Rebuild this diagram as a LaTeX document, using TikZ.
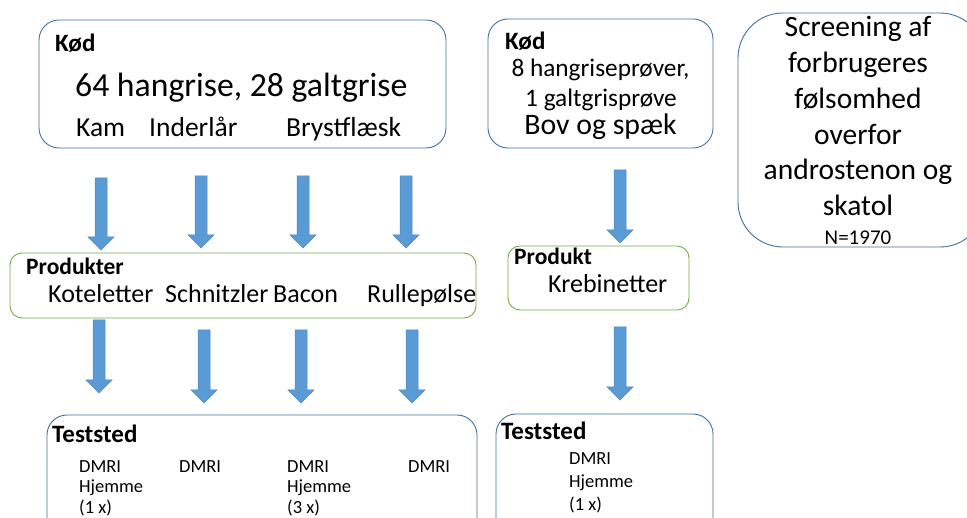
\documentclass[tikz,border=0pt]{standalone}
\usepackage{fontspec}
\setmainfont{Carlito}
\definecolor{bborder}{HTML}{41719C}
\definecolor{gborder}{HTML}{70AD47}
\definecolor{afill}{HTML}{5B9BD5}
\definecolor{aedge}{HTML}{4F88C0}
\newcommand\fs[1]{\fontsize{#1}{#1}\selectfont}
\newcommand\blockarrow[4]{% x, ytop, yheadstart, ytip
  \fill[afill,draw=aedge,line width=0.5pt]
    (#1-6,#2) -- (#1+6,#2) -- (#1+6,#3) -- (#1+13,#3) -- (#1,#4) -- (#1-13,#3) -- (#1-6,#3) -- cycle;}
\begin{document}
\begin{tikzpicture}[x=1pt,y=-1pt,
  bluebox/.style={draw=bborder,line width=0.9pt,rounded corners=20pt,inner sep=0pt},
  greenbox/.style={draw=gborder,line width=0.9pt,rounded corners=12pt,inner sep=0pt},
  txt/.style={anchor=base west,inner sep=0pt},
  ctxt/.style={anchor=base,inner sep=0pt}]
\clip (0,0) rectangle (967,518);
\fill[white] (0,0) rectangle (967,518);
% boxes
\node[bluebox,minimum width=407pt,minimum height=128pt] (kod1) at (242.5,84) {};
\node[bluebox,minimum width=225pt,minimum height=129pt] (kod2) at (600.5,83.5) {};
\node[bluebox,rounded corners=45pt,minimum width=247pt,minimum height=234pt] (scr) at (861.5,130) {};
\node[greenbox,minimum width=466pt,minimum height=65pt] (prod1) at (243,285.5) {};
\node[greenbox,minimum width=181pt,minimum height=64pt] (prod2) at (598.5,278) {};
\node[bluebox,minimum width=430pt,minimum height=130pt] (test1) at (262,480) {};
\node[bluebox,minimum width=217pt,minimum height=130pt] (test2) at (604.5,479) {};
% box 1 text
\node[txt,font=\fs{25}\bfseries] (k1t) at (55,52) {Kød};
\node[txt,font=\fs{33.7}] (k1a) at (75,97) {64 hangrise, 28 galtgrise};
\node[txt,font=\fs{27.5}] (k1b) at (76,137) {Kam};
\node[txt,font=\fs{27.5}] (k1c) at (149,137) {Inderlår};
\node[txt,font=\fs{27.5}] (k1d) at (286,137) {Brystflæsk};
% box 2 text
\node[txt,font=\fs{25}\bfseries] (k2t) at (505,50) {Kød};
\node[ctxt,font=\fs{25.3}] (k2a) at (600.5,77) {8 hangriseprøver,};
\node[ctxt,font=\fs{25.3}] (k2b) at (601,107) {1 galtgrisprøve};
\node[ctxt,font=\fs{29.8}] (k2c) at (600.5,135) {Bov og spæk};
% screening
\node[ctxt,font=\fs{29.5}] (s1) at (858,37) {Screening af};
\node[ctxt,font=\fs{29.5}] (s2) at (858,73) {forbrugeres};
\node[ctxt,font=\fs{29.5}] (s3) at (858,109) {følsomhed};
\node[ctxt,font=\fs{29.5}] (s4) at (858,144.5) {overfor};
\node[ctxt,font=\fs{29.5}] (s5) at (858,180) {androstenon og};
\node[ctxt,font=\fs{29.5}] (s6) at (858,216) {skatol};
\node[ctxt,font=\fs{21}] (s7) at (858,245) {N=1970};
% produkter
\node[txt,font=\fs{23.5}\bfseries] (p1t) at (26,275) {Produkter};
\node[txt,font=\fs{26}] (p1a) at (48,303) {Koteletter};
\node[txt,font=\fs{26}] (p1b) at (165,303) {Schnitzler};
\node[txt,font=\fs{26}] (p1c) at (273,303) {Bacon};
\node[txt,font=\fs{26}] (p1d) at (367,303) {Rullepølse};
\node[txt,font=\fs{23.5}\bfseries] (p2t) at (514,265) {Produkt};
\node[txt,font=\fs{26}] (p2a) at (548,293) {Krebinetter};
% teststed
\node[txt,font=\fs{25}\bfseries] (t1t) at (52,443) {Teststed};
\node[txt,font=\fs{18.5}] (t1a) at (79,472) {DMRI};
\node[txt,font=\fs{18.5}] (t1b) at (79,493) {Hjemme};
\node[txt,font=\fs{18.5}] (t1c) at (79,514) {(1 x)};
\node[txt,font=\fs{18.5}] (t1d) at (179,473) {DMRI};
\node[txt,font=\fs{18.5}] (t1e) at (287,472) {DMRI};
\node[txt,font=\fs{18.5}] (t1f) at (287,493) {Hjemme};
\node[txt,font=\fs{18.5}] (t1g) at (287,514) {(3 x)};
\node[txt,font=\fs{18.5}] (t1h) at (408,472) {DMRI};
\node[txt,font=\fs{25}\bfseries] (t2t) at (501,440) {Teststed};
\node[txt,font=\fs{18.5}] (t2a) at (569,465) {DMRI};
\node[txt,font=\fs{18.5}] (t2b) at (569,488) {Hjemme};
\node[txt,font=\fs{18.5}] (t2c) at (569,511) {(1 x)};
% arrows
\blockarrow{101}{178}{237}{250}
\blockarrow{201}{176}{235}{248}
\blockarrow{303}{176}{235}{248}
\blockarrow{406}{176}{235}{248}
\blockarrow{99}{320}{380}{393}
\blockarrow{204}{330}{390}{403}
\blockarrow{301}{330}{390}{403}
\blockarrow{412}{330}{390}{403}
\blockarrow{620}{170}{230}{243}
\blockarrow{620}{327}{387}{400}
\end{tikzpicture}
\end{document}
